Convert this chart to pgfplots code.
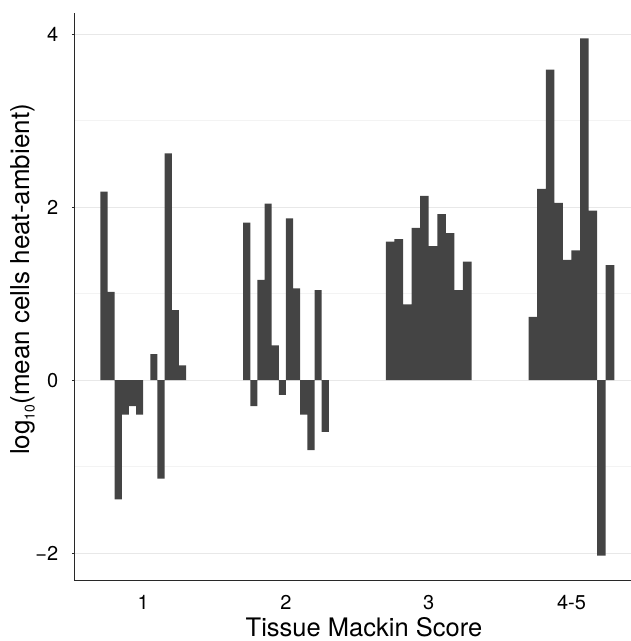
\documentclass[border=0pt]{standalone}
\usepackage{fontspec}
\setmainfont{TeX Gyre Heros}
\usepackage{pgfplots}
\pgfplotsset{compat=1.18}
\definecolor{barc}{RGB}{68,68,68}
\definecolor{gridmaj}{RGB}{232,232,232}
\definecolor{gridmin}{RGB}{243,243,243}
\definecolor{axc}{RGB}{40,40,40}
\begin{document}
\begin{tikzpicture}[x=1pt,y=1pt]
\useasboundingbox (0,0) rectangle (631,641);
\begin{axis}[
  at={(74.7pt,60.3pt)}, anchor=south west,
  scale only axis, width=565.3pt, height=567.3pt,
  xmin=0.52, xmax=4.48, ymin=-2.32, ymax=4.24,
  axis x line*=bottom, axis y line*=left,
  axis line style={-, draw=axc, line width=0.9pt},
  xtick={1,2,3,4}, xticklabels={1,2,3,4-5},
  ytick={-2,0,2,4}, yticklabels={−2,0,2,4},
  minor ytick={-1,1,3},
  ymajorgrids, yminorgrids,
  major grid style={draw=gridmaj, line width=1pt},
  minor grid style={draw=gridmin, line width=0.6pt},
  tick align=outside,
  major tick length=2.7pt,
  minor tick length=0pt,
  xtick style={draw=none},
  ytick style={draw=axc, line width=0.9pt},
  tick label style={font=\fontsize{20}{24}\selectfont},
  yticklabel style={anchor=east, inner sep=0pt, xshift=-13.5pt},
  xticklabel style={anchor=north, inner sep=0pt, yshift=-11.3pt},
]
% group 1 (score 1): 12 slots, one empty
\addplot[ybar, bar width=0.05, bar shift=0pt, fill=barc, draw=none] coordinates {
  (0.725,2.18) (0.775,1.02) (0.825,-1.38) (0.875,-0.40) (0.925,-0.30) (0.975,-0.40)
  (1.075,0.30) (1.125,-1.14) (1.175,2.62) (1.225,0.81) (1.275,0.17)};
% group 2 (score 2)
\addplot[ybar, bar width=0.05, bar shift=0pt, fill=barc, draw=none] coordinates {
  (1.725,1.82) (1.775,-0.30) (1.825,1.16) (1.875,2.04) (1.925,0.40) (1.975,-0.17)
  (2.025,1.87) (2.075,1.06) (2.125,-0.40) (2.175,-0.81) (2.225,1.04) (2.275,-0.60)};
% group 3 (score 3)
\addplot[ybar, bar width=0.06, bar shift=0pt, fill=barc, draw=none] coordinates {
  (2.73,1.60) (2.79,1.63) (2.85,0.875) (2.91,1.76) (2.97,2.13)
  (3.03,1.55) (3.09,1.92) (3.15,1.70) (3.21,1.04) (3.27,1.37)};
% group 4 (score 4-5)
\addplot[ybar, bar width=0.06, bar shift=0pt, fill=barc, draw=none] coordinates {
  (3.73,0.73) (3.79,2.21) (3.85,3.59) (3.91,2.05) (3.97,1.39)
  (4.03,1.50) (4.09,3.95) (4.15,1.96) (4.21,-2.03) (4.27,1.33)};
\end{axis}
\node[anchor=base, font=\fontsize{25.5}{30}\selectfont] at (364,4.5) {Tissue Mackin Score};
\node[anchor=base, rotate=90, font=\fontsize{26}{30}\selectfont] at (30,361.6) {log\raisebox{-0.18em}{\fontsize{14}{14}\selectfont 10}(mean cells heat-ambient)};
\end{tikzpicture}
\end{document}
